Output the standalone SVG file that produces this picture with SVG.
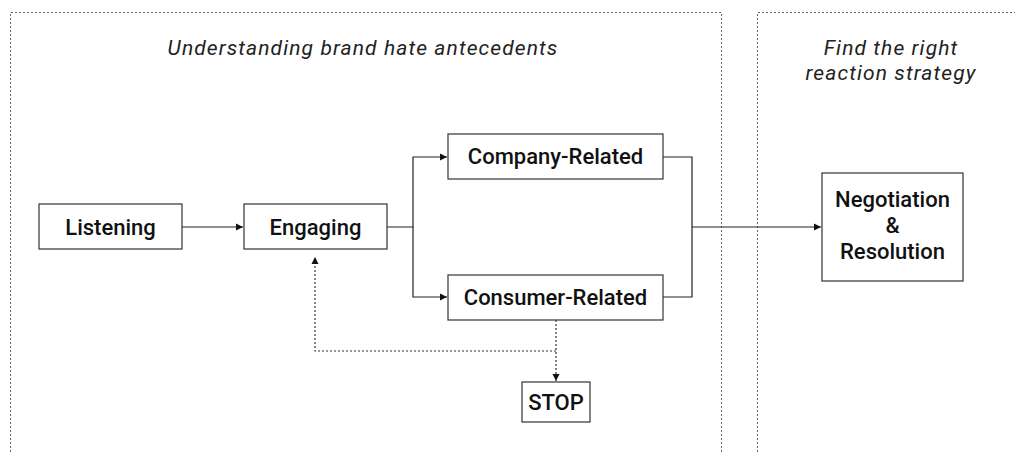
<svg xmlns="http://www.w3.org/2000/svg" width="1015" height="452" viewBox="0 0 1015 452">
<style>
.frame{fill:none;stroke:#666;stroke-width:1;stroke-dasharray:2,2}
.box{fill:#fff;stroke:#333;stroke-width:1.2}
.lbl{font-family:Roboto,"Liberation Sans",sans-serif;font-size:22px;font-weight:500;fill:#111;text-anchor:middle}
.ttl{font-family:Roboto,"Liberation Sans",sans-serif;font-size:21px;font-style:italic;letter-spacing:1.1px;fill:#222;text-anchor:middle}
.ln{fill:none;stroke:#222;stroke-width:1.2}
.dot{fill:none;stroke:#333;stroke-width:1.2;stroke-dasharray:2,2}
</style>
<defs>
<marker id="ah" markerWidth="8" markerHeight="8" refX="7" refY="4" orient="auto" markerUnits="userSpaceOnUse">
<path d="M0,0.5 L7,4 L0,7.5 Z" fill="#111"/>
</marker>
</defs>
<rect width="1015" height="452" fill="#fff"/>
<g id="frames">
<path class="frame" d="M10.5,460 V12.5 H721.5 V460"/>
<path class="frame" d="M757.5,460 V12.5 H1020"/>
<text class="ttl" x="363" y="55">Understanding brand hate antecedents</text>
<text class="ttl" x="891" y="55">Find the right</text>
<text class="ttl" x="891" y="80">reaction strategy</text>
</g>
<g id="connectors">
<path class="ln" d="M182,227 H243" marker-end="url(#ah)"/>
<path class="ln" d="M387,227 H413 V157 H447" marker-end="url(#ah)"/>
<path class="ln" d="M413,227 V297 H447" marker-end="url(#ah)"/>
<path class="ln" d="M663,157 H692 V297 H663"/>
<path class="ln" d="M692,227 H821" marker-end="url(#ah)"/>
<path class="dot" d="M556,320 V381" marker-end="url(#ah)"/>
<path class="dot" d="M556,351 H315 V257" marker-end="url(#ah)"/>
</g>
<g id="listening">
<rect class="box" x="39" y="204" width="143" height="45"/>
<text class="lbl" x="110.5" y="235">Listening</text>
</g>
<g id="engaging">
<rect class="box" x="244" y="204" width="143" height="45"/>
<text class="lbl" x="315.5" y="235">Engaging</text>
</g>
<g id="company">
<rect class="box" x="448" y="134" width="215" height="45"/>
<text class="lbl" x="555.5" y="164">Company-Related</text>
</g>
<g id="consumer">
<rect class="box" x="448" y="275" width="215" height="45"/>
<text class="lbl" x="555.5" y="305">Consumer-Related</text>
</g>
<g id="stop">
<rect class="box" x="522" y="382" width="68" height="40"/>
<text class="lbl" x="556" y="410">STOP</text>
</g>
<g id="negotiation">
<rect class="box" x="822" y="173" width="141" height="108"/>
<text class="lbl" x="892.5" y="207">Negotiation</text>
<text class="lbl" x="892.5" y="233">&amp;</text>
<text class="lbl" x="892.5" y="259">Resolution</text>
</g>
</svg>
